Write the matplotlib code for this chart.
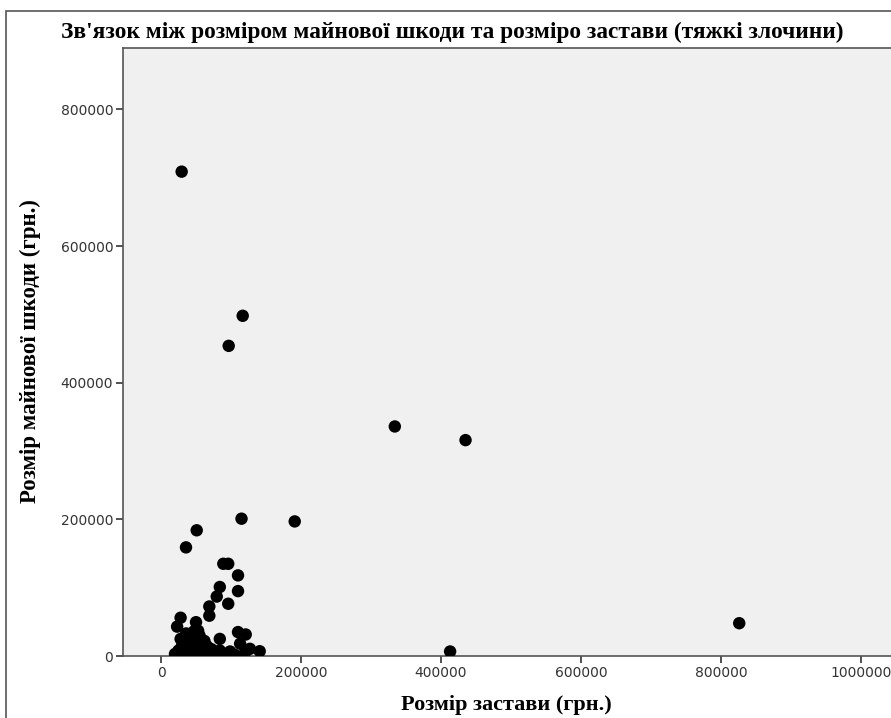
import matplotlib.pyplot as plt
from matplotlib.patches import Rectangle

# bail size (x) vs property damage (y)
bail = [29500, 116700, 96700, 334000, 435000, 191000, 115000, 51000, 35700,
        89000, 96000, 110000, 84000, 110000, 79600, 96000, 69000, 69000,
        28000, 23000, 50000, 110000, 121000, 84000, 127000, 141000, 113000,
        84000, 98600, 413000, 826000,
        20000, 25000, 30000, 33000, 35000, 38000, 40000, 42000, 45000, 47000,
        48000, 50000, 52000, 55000, 55000, 58000, 60000, 62000, 65000, 66000,
        70000, 28000, 36000, 44000, 53000, 75000, 60000, 24000, 32000, 40000,
        62000, 72000, 90000, 105000, 120000]
damage = [709000, 498000, 454000, 336000, 316000, 197000, 201000, 184000, 159000,
          135000, 135000, 118000, 101000, 95000, 87000, 76500, 72500, 59000,
          56000, 43000, 49500, 35000, 31500, 25000, 10500, 7000, 18000,
          8000, 6600, 6600, 48000,
          3000, 8000, 15000, 4000, 22000, 10000, 30000, 2000, 18000, 36000,
          8000, 25000, 13000, 3000, 30000, 19000, 8000, 22000, 4000, 14000,
          5000, 25000, 33000, 26000, 37000, 3000, 1000, 1000, 500, 500,
          12000, 10000, 2000, 2000, 5000]

x_ticks = [0, 200000, 400000, 600000, 800000, 1000000]
y_ticks = [0, 200000, 400000, 600000, 800000]

W, H = 891, 718
fig = plt.figure(figsize=(W / 100, H / 100), dpi=100)
fig.patches.append(Rectangle((6 / W, -0.1), 1.1, 1.1 - 11 / H, transform=fig.transFigure,
                             fill=False, edgecolor='#555555', linewidth=1.2))

ax = fig.add_axes([123 / W, (H - 656) / H, (905 - 123) / W, (656 - 48) / H])
ax.set_facecolor('#f0f0f0')
ax.scatter(bail, damage, s=80, color='black', edgecolors='none', zorder=3)

ax.set_xlim(-54300, 1062800)
ax.set_ylim(0, 890000)
ax.set_xticks(x_ticks)
ax.set_yticks(y_ticks)
ax.set_xticklabels([str(v) for v in x_ticks])
ax.set_yticklabels([str(v) for v in y_ticks])
ax.tick_params(direction='out', length=5, width=1.2, color='#333333',
               labelsize=10, labelcolor='#333333', pad=2)
for s in ax.spines.values():
    s.set_color('#555555')
    s.set_linewidth(1.2)
ax.spines['right'].set_visible(False)

serif = ['Liberation Serif', 'DejaVu Serif']
fig.text(452 / W, 1 - 32 / H,
         "Зв'язок між розміром майнової шкоди та розміро застави (тяжкі злочини)",
         ha='center', va='center', family=serif, fontweight='bold', fontsize=16.8)
fig.text(506 / W, 1 - 705 / H, 'Розмір застави (грн.)', ha='center', va='center',
         family=serif, fontweight='bold', fontsize=16)
fig.text(30 / W, 1 - 351 / H, 'Розмір майнової шкоди (грн.)', ha='center',
         va='center', rotation=90, family=serif, fontweight='bold', fontsize=16.5)

fig.savefig('out.png', dpi=100)
